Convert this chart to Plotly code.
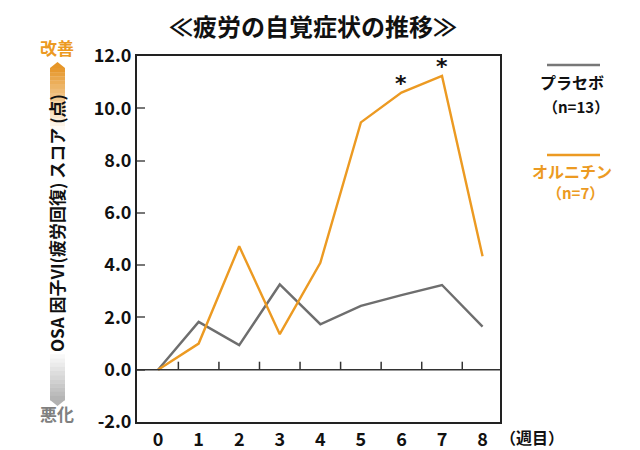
import plotly.graph_objects as go

weeks = [0, 1, 2, 3, 4, 5, 6, 7, 8]
placebo = [0.0, 1.83, 0.94, 3.26, 1.74, 2.44, 2.85, 3.24, 1.65]
ornithine = [0.0, 1.0, 4.72, 1.36, 4.09, 9.46, 10.6, 11.24, 4.34]
sig_weeks = [6, 7]
y_ticks = [-2, 0, 2, 4, 6, 8, 10, 12]
y_tick_text = ["-2.0", "0.0", "2.0", "4.0", "6.0", "8.0", "10.0", "12.0"]
x_tick_text = ["0", "1", "2", "3", "4", "5", "6", "7", "8"]

ORANGE = "#EC9A22"
GRAY = "#6E6E6E"
FONT = "Noto Sans CJK JP"

# page body has an 8px margin; work in reference pixel coords and shift
OFF = 8
W, H = 640 - OFF, 450 - OFF
L, R, T, B = 137 - OFF, 140, 56 - OFF, 28
pw, ph = W - L - R, H - T - B

def px(x):
    return (x - OFF - L) / pw

def py(y):
    return (H - B - (y - OFF)) / ph

fig = go.Figure()
fig.add_trace(go.Scatter(x=weeks, y=placebo, mode="lines",
                         line=dict(color=GRAY, width=2.4), showlegend=False, hoverinfo="skip"))
fig.add_trace(go.Scatter(x=weeks, y=ornithine, mode="lines",
                         line=dict(color=ORANGE, width=2.4), showlegend=False, hoverinfo="skip"))

shapes = []
shapes.append(dict(type="line", xref="paper", yref="y", x0=0, x1=1, y0=0, y1=0,
                   line=dict(color="#333333", width=1.5)))
for i in range(len(weeks) - 1):
    xm = (weeks[i] + weeks[i + 1]) / 2
    shapes.append(dict(type="line", xref="x", yref="y", ysizemode="pixel", yanchor=0,
                       x0=xm, x1=xm, y0=0, y1=8, line=dict(color="#333333", width=1.5)))

def lerp(c1, c2, t):
    return "rgb(%d,%d,%d)" % tuple(int(round(a + (b - a) * t)) for a, b in zip(c1, c2))

top_col = (230, 150, 40)
bot_col = (178, 178, 178)
white = (255, 255, 255)
ax0, ax1 = 50, 65
y_top, y_bot = 68, 400
n = 80
step = (y_bot - y_top) / n
for k in range(n):
    yc = y_top + (k + 0.5) * step
    if yc < 132:
        col = lerp(top_col, white, (yc - y_top) / (132 - y_top))
    elif yc > 352:
        col = lerp(white, bot_col, (yc - 352) / (y_bot - 352))
    else:
        col = "rgb(255,255,255)"
    shapes.append(dict(type="rect", xref="paper", yref="paper",
                       x0=px(ax0), x1=px(ax1), y0=py(y_top + (k + 1) * step + 0.3), y1=py(y_top + k * step),
                       fillcolor=col, line=dict(width=0), layer="below"))
shapes.append(dict(type="path", xref="paper", yref="paper",
                   path="M %f,%f L %f,%f L %f,%f Z" % (px(ax0), py(y_top), px((ax0 + ax1) / 2), py(62), px(ax1), py(y_top)),
                   fillcolor="rgb(230,150,40)", line=dict(width=0)))
shapes.append(dict(type="path", xref="paper", yref="paper",
                   path="M %f,%f L %f,%f L %f,%f Z" % (px(ax0), py(y_bot), px((ax0 + ax1) / 2), py(406), px(ax1), py(y_bot)),
                   fillcolor="rgb(178,178,178)", line=dict(width=0)))
shapes.append(dict(type="line", xref="paper", yref="paper", x0=px(547), x1=px(600), y0=py(65), y1=py(65),
                   line=dict(color="#777777", width=2.6)))
shapes.append(dict(type="line", xref="paper", yref="paper", x0=px(547), x1=px(600), y0=py(155), y1=py(155),
                   line=dict(color=ORANGE, width=2.6)))

annotations = []
for w in sig_weeks:
    annotations.append(dict(x=w, y=ornithine[weeks.index(w)], xref="x", yref="y", text="<b>*</b>",
                            showarrow=False, yshift=9, font=dict(family="DejaVu Sans", size=22, color="#111111")))

def ann(x, y, text, size, color, **kw):
    d = dict(x=px(x), y=py(y), xref="paper", yref="paper", text=text, showarrow=False,
             font=dict(family=FONT, size=size, color=color, weight="bold"), xanchor="center", yanchor="middle")
    d.update(kw)
    annotations.append(d)

ann(313, 25, "≪疲労の自覚症状の推移≫", 24, "#111111")
ann(57, 47, "改善", 17, ORANGE)
ann(57, 413, "悪化", 17, "#808080")
ann(57, 223, "OSA 因子VI(疲労回復) スコア (点)", 17, "#111111", textangle=-90)
ann(572, 82, "プラセボ", 16, "#111111")
ann(576, 106, "（n=13）", 15, "#111111")
ann(572, 171, "オルニチン", 16, ORANGE)
ann(575, 192, "（n=7）", 15, ORANGE)
ann(532, 437, "（週目）", 16, "#111111")

fig.update_layout(
    width=W, height=H,
    margin=dict(l=L, r=R, t=T, b=B),
    paper_bgcolor="white", plot_bgcolor="white",
    font=dict(family=FONT, color="#111111"),
    shapes=shapes, annotations=annotations,
    xaxis=dict(range=[-0.52, 8.43], tickvals=weeks, ticktext=x_tick_text, automargin=False,
               showgrid=False, zeroline=False, showline=True, mirror=True,
               linecolor="#222222", linewidth=2, ticks="",
               tickfont=dict(family=FONT, size=18, color="#111111", weight="bold")),
    yaxis=dict(range=[-2, 12], tickvals=y_ticks, ticktext=y_tick_text, automargin=False,
               showgrid=False, zeroline=False, showline=True, mirror=True,
               linecolor="#222222", linewidth=2, ticks="inside", ticklen=8,
               tickcolor="#777777", tickwidth=1.5,
               tickfont=dict(family=FONT, size=18, color="#111111", weight="bold")),
)

fig.write_html("out.html")
